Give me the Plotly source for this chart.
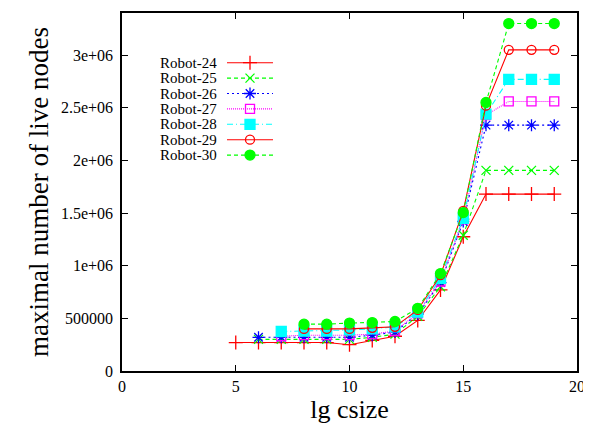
import plotly.graph_objects as go

# ---- data ----
names = ["Robot-24", "Robot-25", "Robot-26", "Robot-27", "Robot-28", "Robot-29", "Robot-30"]
x24 = list(range(5, 20))
y24 = [270000, 270000, 270000, 270000, 270000, 250000, 290000, 330000, 480000, 770000, 1275000, 1680000, 1680000, 1680000, 1680000]
x25 = list(range(6, 20))
y25 = [300000, 300000, 300000, 300000, 300000, 320000, 350000, 520000, 800000, 1290000, 1905000, 1905000, 1905000, 1905000]
x26 = list(range(6, 20))
y26 = [320000, 320000, 320000, 320000, 320000, 340000, 370000, 540000, 840000, 1420000, 2335000, 2335000, 2335000, 2335000]
x27 = list(range(7, 20))
y27 = [330000, 340000, 340000, 340000, 350000, 380000, 550000, 850000, 1440000, 2430000, 2560000, 2560000, 2560000]
x28 = list(range(7, 20))
y28 = [375000, 380000, 380000, 390000, 400000, 420000, 560000, 880000, 1450000, 2440000, 2770000, 2770000, 2770000]
x29 = list(range(8, 20))
y29 = [400000, 400000, 400000, 410000, 420000, 580000, 910000, 1520000, 2520000, 3050000, 3050000, 3050000]
x30 = list(range(8, 20))
y30 = [445000, 445000, 455000, 460000, 470000, 595000, 925000, 1505000, 2550000, 3300000, 3300000, 3300000]

xs = [x24, x25, x26, x27, x28, x29, x30]
ys = [y24, y25, y26, y27, y28, y29, y30]

x_ticks = [0, 5, 10, 15, 20]
y_ticks = [0, 500000, 1000000, 1500000, 2000000, 2500000, 3000000]
y_tick_text = ["0", "500000", "1e+06", "1.5e+06", "2e+06", "2.5e+06", "3e+06"]

# ---- styles ----
colors = ["#ff0000", "#00ff00", "#0000ff", "#ff00ff", "#00ffff", "#ff0000", "#00ff00"]
dashes = ["solid", "4px,3px", "2px,3px", "1px,1px", "6px,3px,1px,3px", "solid", "4px,3px"]
symbols = ["cross-thin", "x-thin", "asterisk", "square-open", "square", "circle-open", "circle"]
sizes = [10, 9, 10, 9, 10, 9, 10]

FONT = "Liberation Serif, Times New Roman, DejaVu Serif, serif"

# page has an 8px body margin; figure drawn at (8,8)
OFF = 8
W, H = 591 - OFF, 424 - OFF
L, R, T, B = 122 - OFF, 577 - OFF, 13 - OFF, 371 - OFF

fig = go.Figure()
for i in range(len(names)):
    fig.add_trace(go.Scatter(
        x=xs[i], y=ys[i], mode="lines+markers", name=names[i], showlegend=False,
        line=dict(color=colors[i], width=1.1, dash=dashes[i]),
        marker=dict(symbol=symbols[i], size=sizes[i], color=colors[i],
                    line=dict(color=colors[i], width=1.3)),
        xaxis="x", yaxis="y"))

# custom gnuplot-style key (text left, sample right), drawn on an overlay pixel axis
row0, dy = 62.7 - OFF, 15.4
for i in range(len(names)):
    ry = row0 + i * dy - T
    fig.add_trace(go.Scatter(
        x=[227 - OFF - L, 273 - OFF - L], y=[ry, ry], mode="lines", showlegend=False, hoverinfo="skip",
        line=dict(color=colors[i], width=1.1, dash=dashes[i]), xaxis="x2", yaxis="y2"))
    fig.add_trace(go.Scatter(
        x=[250 - OFF - L], y=[ry], mode="markers", showlegend=False, hoverinfo="skip",
        marker=dict(symbol=symbols[i], size=sizes[i], color=colors[i],
                    line=dict(color=colors[i], width=1.3)), xaxis="x2", yaxis="y2"))
    fig.add_annotation(x=219 - OFF - L, y=ry, xref="x2", yref="y2", text=names[i], showarrow=False,
                       xanchor="right", yanchor="middle", font=dict(family=FONT, size=15, color="black"))

fig.update_layout(
    width=W, height=H,
    margin=dict(l=L, r=W - R, t=T, b=H - B, autoexpand=False),
    paper_bgcolor="white", plot_bgcolor="white",
    font=dict(family=FONT, color="black"),
    xaxis=dict(range=[0, 20], tickvals=x_ticks, ticks="inside", ticklen=6, tickwidth=1,
               tickcolor="black", showline=True, linecolor="black", linewidth=1.5, mirror="allticks",
               showgrid=False, zeroline=False, tickfont=dict(size=16, family=FONT), automargin=False,
               title=dict(text="lg csize", font=dict(size=26, family=FONT), standoff=2)),
    yaxis=dict(range=[0, 3400000], tickvals=y_ticks, ticktext=y_tick_text, ticks="inside",
               ticklen=6, tickwidth=1, tickcolor="black", showline=True, linecolor="black",
               linewidth=1.5, mirror="allticks", showgrid=False, zeroline=False, automargin=False,
               tickfont=dict(size=16, family=FONT), ticklabelstandoff=4,
               title=dict(text="maximal number of live nodes", font=dict(size=27, family=FONT), standoff=4)),
    xaxis2=dict(overlaying="x", range=[0, R - L], visible=False, anchor="y2"),
    yaxis2=dict(overlaying="y", range=[B - T, 0], visible=False, anchor="x2"),
)

fig.write_html("out.html")
